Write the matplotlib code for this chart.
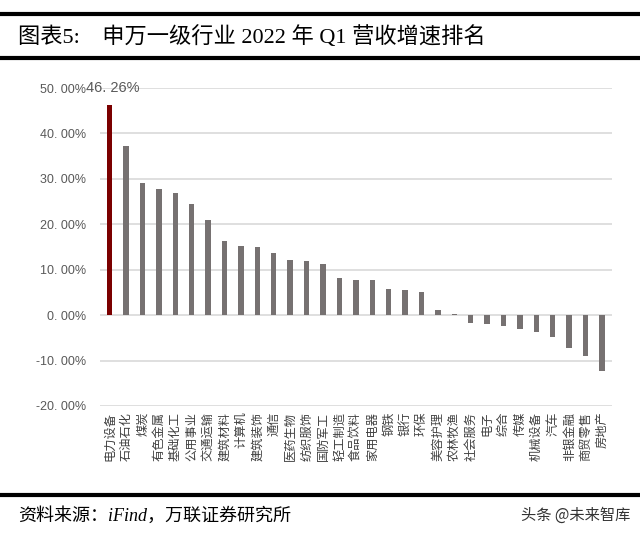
import matplotlib
matplotlib.use("Agg")
import matplotlib.pyplot as plt
from matplotlib.lines import Line2D

plt.rcParams['font.family'] = ['Liberation Serif', 'Noto Sans CJK SC', 'DejaVu Sans']

# 申万一级行业 2022Q1 营收增速 (%)
industries = ['电力设备', '石油石化', '煤炭', '有色金属', '基础化工', '公用事业', '交通运输',
              '建筑材料', '计算机', '建筑装饰', '通信', '医药生物', '纺织服饰', '国防军工',
              '轻工制造', '食品饮料', '家用电器', '钢铁', '银行', '环保', '美容护理',
              '农林牧渔', '社会服务', '电子', '综合', '传媒', '机械设备', '汽车',
              '非银金融', '商贸零售', '房地产']
growth = [46.26, 37.2, 29.2, 27.8, 26.9, 24.4, 21.0, 16.4, 15.2, 15.1, 13.6, 12.2, 11.9,
          11.2, 8.2, 7.8, 7.7, 5.8, 5.6, 5.1, 1.2, 0.3, -1.8, -1.9, -2.3, -3.0, -3.8,
          -4.9, -7.3, -8.9, -12.2]
yticks = [-20, -10, 0, 10, 20, 30, 40, 50]

fig = plt.figure(figsize=(6.4, 5.37), dpi=100)
ax = fig.add_axes([0.156, 0.244, 0.80, 0.592])

colors = ['#7B0000'] + ['#767171'] * (len(growth) - 1)
x = list(range(len(growth)))
ax.bar(x, growth, width=0.33, color=colors, zorder=3)

ax.set_ylim(-20, 50)
ax.set_xlim(-0.6, len(growth) - 0.4)
ax.set_yticks(yticks)
ax.set_yticklabels([f'{v:.2f}%'.replace('.', '. ') for v in yticks],
                   fontsize=9, color='#595959', family=['Liberation Sans', 'DejaVu Sans'])
ax.grid(axis='y', color='#D9D9D9', linewidth=1.2, zorder=0)
ax.tick_params(axis='both', length=0)
ax.tick_params(axis='y', pad=10)
for s in ax.spines.values():
    s.set_visible(False)

ax.set_xticks(x)
ax.set_xticklabels(industries, rotation=90, fontsize=8.8, color='#404040',
                   family=['Noto Sans CJK SC', 'DejaVu Sans'])
ax.tick_params(axis='x', pad=4)

ax.annotate(f'{growth[0]:.2f}%'.replace('.', '. '), (x[0], growth[0]),
            xytext=(2, 7), textcoords='offset points', ha='center', va='bottom',
            fontsize=10.5, color='#595959', family=['Liberation Sans', 'DejaVu Sans'])

# header and footer rules
for yy in [1 - 14 / 537, 1 - 58 / 537, 1 - 495 / 537]:
    fig.add_artist(Line2D([0.0, 1.0], [yy, yy], transform=fig.transFigure,
                          color='black', linewidth=3))

fig.text(0.028, 1 - 37 / 537, '图表5:    申万一级行业 2022 年 Q1 营收增速排名',
         fontsize=16, va='center', ha='left', color='black')
fig.text(0.028, 1 - 516 / 537, '资料来源：iFind，万联证券研究所',
         fontsize=13, va='center', ha='left', style='italic', color='black')
fig.text(0.985, 1 - 515 / 537, '头条 @未来智库', fontsize=11, va='center', ha='right',
         color='#333333', family=['Noto Sans CJK SC', 'DejaVu Sans'])

fig.savefig('out.png', dpi=100)
